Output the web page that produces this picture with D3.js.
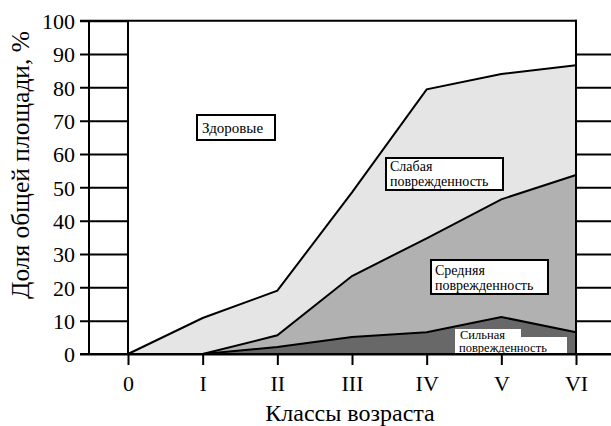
<!DOCTYPE html>
<html><head><meta charset="utf-8">
<script src="https://cdn.jsdelivr.net/npm/d3@7"></script>
<style>
body{margin:0;background:#fff}
</style></head>
<body><svg id="c" width="611" height="426"></svg>
<script>
const categories = ["0","I","II","III","IV","V","VI"];
const severe = [0, 0, 2.1, 5.1, 6.5, 11.1, 6.5];
const medium = [0, 0, 3.5, 18.3, 28.2, 35.3, 47.2];
const weak   = [0, 10.8, 13.4, 25.1, 44.7, 37.6, 32.9];
const yTicks = [0,10,20,30,40,50,60,70,80,90,100];
const xTitle = "Классы возраста";
const yTitle = "Доля общей площади, %";
const keys = ["severe","medium","weak"];
const fills = {severe:"#686868", medium:"#b1b1b1", weak:"#e5e5e5"};
const FONT = '"Liberation Serif", Tinos, "Times New Roman", Times, "Noto Serif", "DejaVu Serif", serif';

const svg = d3.select("#c");
const x = d3.scalePoint().domain(categories).range([128, 576]);
const y = d3.scaleLinear().domain([0,100]).range([354, 20.7]);

const rows = categories.map((c,i)=>({cat:c, severe:severe[i], medium:medium[i], weak:weak[i]}));
const stack = d3.stack().keys(keys)(rows);

const area = d3.area().x(d=>x(d.data.cat)).y0(d=>y(d[0])).y1(d=>y(d[1]));
const line = d3.line().x(d=>x(d.data.cat)).y(d=>y(d[1]));

svg.append("g").selectAll("path").data(stack).join("path")
  .attr("d", area).attr("fill", d=>fills[d.key]).attr("stroke","none");

svg.append("g").selectAll("path").data(stack).join("path")
  .attr("d", d=> line(d.key==="weak" ? d : d.slice(1)))
  .attr("fill","none").attr("stroke","#000").attr("stroke-width",2);

function txt(xp,yp,t,fs){
  return svg.append("text").attr("x",xp).attr("y",yp).attr("font-size",fs)
    .attr("font-family",FONT).attr("fill","#000").text(t);
}
function boxLabel(x0,y0,w,h,lines,tx,ty,lh,fs){
  svg.append("rect").attr("x",x0).attr("y",y0).attr("width",w).attr("height",h)
    .attr("fill","#fff").attr("stroke","#000").attr("stroke-width",2);
  lines.forEach((t,i)=>txt(tx,ty+i*lh,t,fs));
}
boxLabel(197,115,78,25,["Здоровые"],202,133,0,15);
boxLabel(386,158,117,32,["Слабая","поврежденность"],390,171,15,14);
boxLabel(431,260,117,34,["Средняя","поврежденность"],435,275,15,14);
svg.append("path").attr("d","M455,329H521V337H567V353H455Z").attr("fill","#fff");
txt(460,338.5,"Сильная",12.5);
txt(459,352,"поврежденность",12.5);

const sw = 2;
const left = svg.append("g").attr("transform","translate(128,0)")
  .call(d3.axisLeft(y).tickValues(yTicks).tickSize(48).tickSizeOuter(0).tickPadding(5).tickFormat(d3.format("d")));
left.attr("font-family",FONT);
left.selectAll("text").attr("font-size",22).attr("dy","0.35em");
left.selectAll("line,path").attr("stroke","#000").attr("stroke-width",sw);
left.select(".domain").remove();

const right = svg.append("g").attr("transform","translate(576,0)")
  .call(d3.axisRight(y).tickValues(yTicks.filter(v=>v<100)).tickSize(35).tickSizeOuter(0).tickFormat(""));
right.selectAll("line,path").attr("stroke","#000").attr("stroke-width",sw);
right.select(".domain").remove();

const bottom = svg.append("g").attr("transform",`translate(0,${y(0)})`)
  .call(d3.axisBottom(x).tickSize(11).tickSizeOuter(0));
bottom.attr("font-family",FONT);
bottom.selectAll("line,path").attr("stroke","#000").attr("stroke-width",sw);
bottom.selectAll("text").attr("font-size",22).attr("dy",null).attr("y",37);

function ln(x1,y1,x2,y2){
  svg.append("line").attr("x1",x1).attr("x2",x2).attr("y1",y1).attr("y2",y2)
    .attr("stroke","#000").attr("stroke-width",sw);
}
ln(89,y(100),89,y(0));
ln(x("0"),y(100),x("0"),y(0));
ln(x("VI"),y(100)-1,x("VI"),y(0));
ln(80,y(100),577,y(100));
ln(80,y(0),611,y(0));

txt(350,421,xTitle,24).attr("text-anchor","middle");
svg.append("text").attr("transform","translate(29,165) rotate(-90)").attr("text-anchor","middle")
  .attr("font-family",FONT).attr("font-size",25.5).attr("fill","#000").text(yTitle);
</script></body></html>
